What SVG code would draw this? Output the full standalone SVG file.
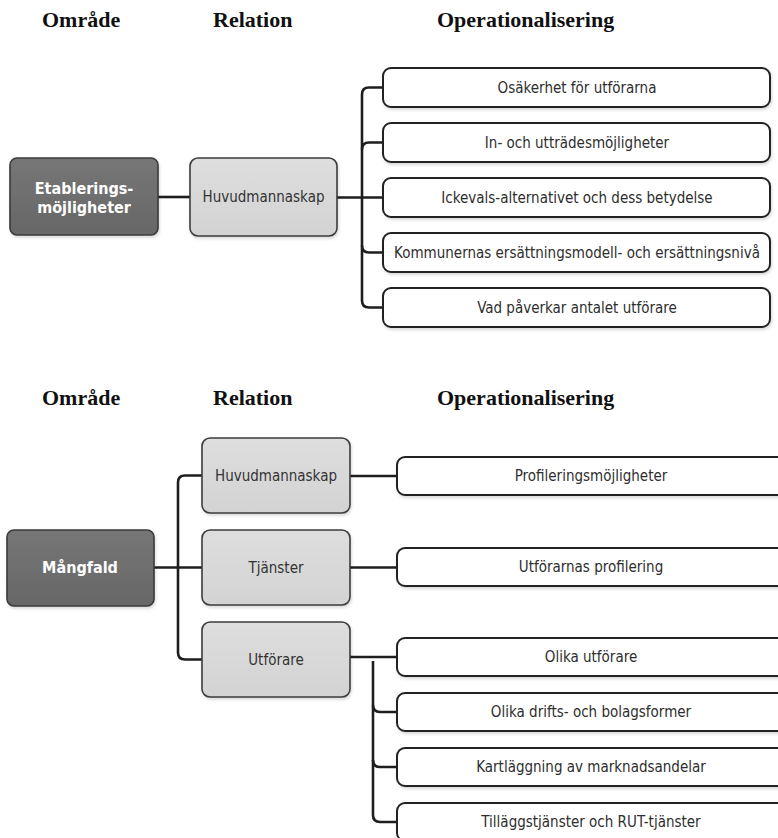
<svg xmlns="http://www.w3.org/2000/svg" width="778" height="838" viewBox="0 0 778 838">
  <defs>
    <filter id="shadow" x="-10%" y="-10%" width="120%" height="130%">
      <feDropShadow dx="1" dy="2" stdDeviation="1.5" flood-color="#000" flood-opacity="0.15"/>
    </filter>
    <linearGradient id="darkFill" x1="0" y1="0" x2="0" y2="1">
      <stop offset="0" stop-color="#767676"/>
      <stop offset="1" stop-color="#676767"/>
    </linearGradient>
    <linearGradient id="lightFill" x1="0" y1="0" x2="0" y2="1">
      <stop offset="0" stop-color="#dedede"/>
      <stop offset="1" stop-color="#d3d3d3"/>
    </linearGradient>
  </defs>
  <style>
    .head { font-family: "Liberation Serif", "Times New Roman", serif; font-weight: bold; font-size: 22px; fill: #111; }
    .area rect { fill: url(#darkFill); stroke: #3a3a3a; stroke-width: 1.6; filter: url(#shadow); }
    .area text { font-family: "DejaVu Sans Condensed", "Liberation Sans", Arial, sans-serif; font-weight: bold; font-size: 16px; fill: #fff; text-anchor: middle; }
    .rel rect { fill: url(#lightFill); stroke: #3c3c3c; stroke-width: 1.6; filter: url(#shadow); }
    .rel text { font-family: "DejaVu Sans Condensed", "Liberation Sans", Arial, sans-serif; font-size: 15px; fill: #333; text-anchor: middle; }
    .op rect { fill: #fff; stroke: #222; stroke-width: 2; filter: url(#shadow); }
    .op text { font-family: "DejaVu Sans Condensed", "Liberation Sans", Arial, sans-serif; font-size: 15px; fill: #2e2e2e; text-anchor: middle; }
    .links path { fill: none; stroke: #1e1e1e; stroke-width: 2.6; }
  </style>
  <rect width="778" height="838" fill="#fff"/>

  <!-- column headings, upper chart -->
  <text class="head" x="42" y="27">Område</text>
  <text class="head" x="213" y="27">Relation</text>
  <text class="head" x="437" y="27">Operationalisering</text>

  <!-- column headings, lower chart -->
  <text class="head" x="42" y="405">Område</text>
  <text class="head" x="213" y="405">Relation</text>
  <text class="head" x="437" y="405">Operationalisering</text>

  <!-- connectors -->
  <g id="connectors" class="links">
    <!-- upper chart -->
    <path d="M158,197 H190"/>
    <path d="M337,197.5 H383"/>
    <path d="M383,87.5 H369 Q362,87.5 362,94.5 V300.5 Q362,307.5 369,307.5 H383"/>
    <path d="M362,149.5 Q362,142.5 369,142.5 H383"/>
    <path d="M362,245.5 Q362,252.5 369,252.5 H383"/>
    <!-- lower chart -->
    <path d="M154,567.5 H202"/>
    <path d="M202,475.5 H185 Q178,475.5 178,482.5 V652.5 Q178,659.5 185,659.5 H202"/>
    <path d="M350,476 H397"/>
    <path d="M350,567.5 H397"/>
    <path d="M350,657 H397"/>
    <path d="M373,661 V815 Q373,822 380,822 H397"/>
    <path d="M373,705 Q373,712 380,712 H397"/>
    <path d="M373,760 Q373,767 380,767 H397"/>
  </g>

  <!-- upper chart nodes -->
  <g id="etablering" class="area">
    <rect x="10" y="158" width="148" height="77" rx="7"/>
    <text x="84" y="194">Etablerings-</text>
    <text x="84" y="213">möjligheter</text>
  </g>
  <g id="huvudmannaskap-1" class="rel">
    <rect x="190" y="158" width="147" height="78" rx="8"/>
    <text x="263.5" y="202">Huvudmannaskap</text>
  </g>
  <g id="op-osakerhet" class="op">
    <rect x="383" y="68" width="387" height="39" rx="8"/>
    <text x="577" y="93">Osäkerhet för utförarna</text>
  </g>
  <g id="op-in-uttrade" class="op">
    <rect x="383" y="123" width="387" height="39" rx="8"/>
    <text x="577" y="148">In- och utträdesmöjligheter</text>
  </g>
  <g id="op-ickeval" class="op">
    <rect x="383" y="178" width="387" height="39" rx="8"/>
    <text x="577" y="203">Ickevals-alternativet och dess betydelse</text>
  </g>
  <g id="op-ersattning" class="op">
    <rect x="383" y="233" width="387" height="39" rx="8"/>
    <text x="577" y="258">Kommunernas ersättningsmodell- och ersättningsnivå</text>
  </g>
  <g id="op-antal" class="op">
    <rect x="383" y="288" width="387" height="39" rx="8"/>
    <text x="577" y="313">Vad påverkar antalet utförare</text>
  </g>

  <!-- lower chart nodes -->
  <g id="mangfald" class="area">
    <rect x="7" y="530" width="147" height="76" rx="7"/>
    <text x="80" y="573">Mångfald</text>
  </g>
  <g id="huvudmannaskap-2" class="rel">
    <rect x="202" y="438" width="148" height="75" rx="8"/>
    <text x="276" y="481">Huvudmannaskap</text>
  </g>
  <g id="tjanster" class="rel">
    <rect x="202" y="530" width="148" height="75" rx="8"/>
    <text x="276" y="573">Tjänster</text>
  </g>
  <g id="utforare" class="rel">
    <rect x="202" y="622" width="148" height="75" rx="8"/>
    <text x="276" y="665">Utförare</text>
  </g>
  <g id="op-profileringsmojligheter" class="op">
    <rect x="397" y="457" width="394" height="38" rx="8"/>
    <text x="591" y="481">Profileringsmöjligheter</text>
  </g>
  <g id="op-utforarnas-profilering" class="op">
    <rect x="397" y="548" width="394" height="38" rx="8"/>
    <text x="591" y="572">Utförarnas profilering</text>
  </g>
  <g id="op-olika-utforare" class="op">
    <rect x="397" y="638" width="394" height="38" rx="8"/>
    <text x="591" y="662">Olika utförare</text>
  </g>
  <g id="op-driftsformer" class="op">
    <rect x="397" y="693" width="394" height="38" rx="8"/>
    <text x="591" y="717">Olika drifts- och bolagsformer</text>
  </g>
  <g id="op-marknadsandelar" class="op">
    <rect x="397" y="748" width="394" height="38" rx="8"/>
    <text x="591" y="772">Kartläggning av marknadsandelar</text>
  </g>
  <g id="op-tillaggstjanster" class="op">
    <rect x="397" y="803" width="394" height="38" rx="8"/>
    <text x="591" y="827">Tilläggstjänster och RUT-tjänster</text>
  </g>
</svg>
